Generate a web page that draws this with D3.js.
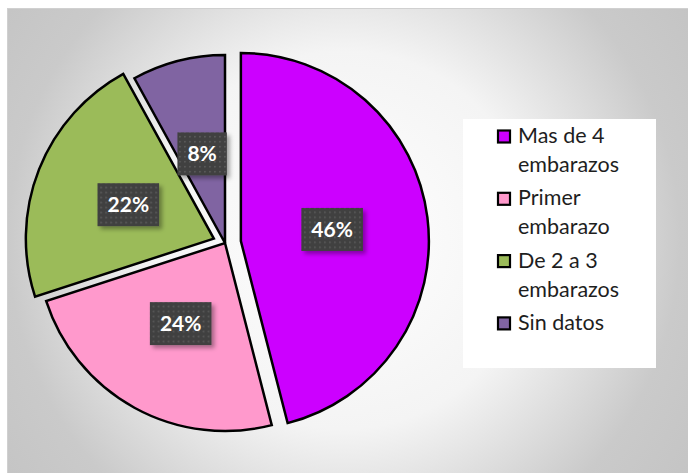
<!DOCTYPE html>
<html><head><meta charset="utf-8">
<script src="https://cdn.jsdelivr.net/npm/d3@7/dist/d3.min.js"></script>
<style>html,body{margin:0;padding:0;background:#fff;}svg{display:block;}</style>
</head><body>
<svg id="chart" width="688" height="473"></svg>
<script>
const categories = ["Mas de 4 embarazos", "Primer embarazo", "De 2 a 3 embarazos", "Sin datos"];
const legendLines = [["Mas de 4", "embarazos"], ["Primer", "embarazo"], ["De 2 a 3", "embarazos"], ["Sin datos"]];
const values = [46, 24, 22, 8];
const labels = ["46%", "24%", "22%", "8%"];
const colors = ["#CC00FF", "#FF99CC", "#9BBB59", "#8064A2"];
const explode = [16, 0, 12, 0];

const W = 688, H = 473;
const svg = d3.select("#chart");
const defs = svg.append("defs");

const grad = defs.append("radialGradient").attr("id", "bg")
  .attr("gradientUnits", "userSpaceOnUse")
  .attr("cx", 344).attr("cy", 240).attr("r", 420);
grad.append("stop").attr("offset", 0).attr("stop-color", "#ffffff");
grad.append("stop").attr("offset", 0.45).attr("stop-color", "#f4f4f4");
grad.append("stop").attr("offset", 0.8).attr("stop-color", "#cacaca");
grad.append("stop").attr("offset", 1).attr("stop-color", "#c4c4c4");

const pat = defs.append("pattern").attr("id", "dots")
  .attr("patternUnits", "userSpaceOnUse").attr("width", 5).attr("height", 5);
pat.append("rect").attr("width", 5).attr("height", 5).attr("fill", "#404040");
pat.append("rect").attr("x", 2).attr("y", 2).attr("width", 1.6).attr("height", 1.6).attr("fill", "#5c5c5c");

const shadow = defs.append("filter").attr("id", "shadow")
  .attr("x", "-20%").attr("y", "-20%").attr("width", "150%").attr("height", "160%");
shadow.append("feDropShadow").attr("dx", 3).attr("dy", 3).attr("stdDeviation", 2)
  .attr("flood-color", "#000").attr("flood-opacity", 0.35);

// chart area
svg.append("rect").attr("x", 7.5).attr("y", 8.5).attr("width", 700).attr("height", 480)
  .attr("fill", "url(#bg)").attr("stroke", "#d0d0d0").attr("stroke-width", 1);

// pie
const cx = 225, cy = 243, R = 188;
const pie = d3.pie().sort(null).value(d => d)(values);
const arc = d3.arc().innerRadius(0).outerRadius(R);
const labelArc = d3.arc().innerRadius(92).outerRadius(92);

const g = svg.append("g").attr("transform", `translate(${cx},${cy})`);
const slices = g.selectAll("g.slice").data(pie).enter().append("g")
  .attr("class", "slice")
  .attr("transform", (d, i) => {
    const a = (d.startAngle + d.endAngle) / 2;
    return `translate(${Math.sin(a) * explode[i]},${-Math.cos(a) * explode[i]})`;
  });
slices.append("path").attr("d", arc)
  .attr("fill", (d, i) => colors[i])
  .attr("stroke", "#000").attr("stroke-width", 2.5).attr("stroke-linejoin", "miter");

// labels
slices.each(function (d, i) {
  const sel = d3.select(this);
  const [lx, ly] = labelArc.centroid(d);
  const lg = sel.append("g").attr("transform", `translate(${lx},${ly})`);
  const box = lg.append("rect").attr("fill", "url(#dots)").attr("filter", "url(#shadow)");
  const t = lg.append("text").text(labels[i])
    .attr("text-anchor", "middle").attr("y", 7.5)
    .attr("font-family", "Lato, 'Open Sans', sans-serif").attr("font-weight", "bold")
    .attr("font-size", 21).attr("fill", "#fff");
  const tw = t.node().getComputedTextLength();
  const bw = tw + 20, bh = 43;
  box.attr("x", -bw / 2).attr("y", -bh / 2).attr("width", bw).attr("height", bh);
});

// legend
svg.append("rect").attr("x", 463).attr("y", 119).attr("width", 193).attr("height", 249)
  .attr("fill", "#fff");
const lgd = svg.append("g");
legendLines.forEach((lines, i) => {
  const b0 = 143 + i * 62.3;
  lgd.append("rect").attr("x", 498).attr("y", b0 - 12.5).attr("width", 12).attr("height", 12)
    .attr("fill", colors[i]).attr("stroke", "#000").attr("stroke-width", 2.2);
  lines.forEach((ln, j) => {
    lgd.append("text").text(ln).attr("x", 518).attr("y", b0 + j * 29)
      .attr("font-family", "Lato, 'Open Sans', sans-serif")
      .attr("font-size", 21.5).attr("fill", "#1e1e1e");
  });
});
</script>
</body></html>
